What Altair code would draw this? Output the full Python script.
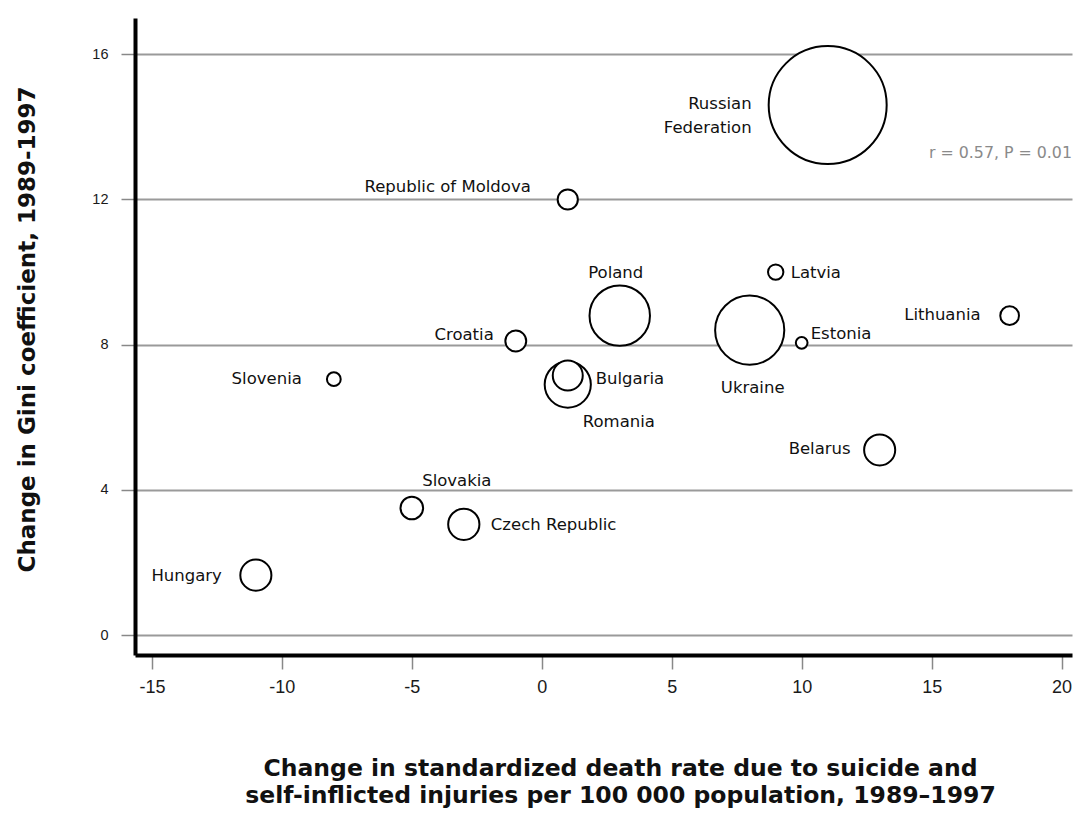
import altair as alt
import pandas as pd

# ---- data ----
countries = ["Russian Federation", "Ukraine", "Poland", "Romania", "Czech Republic",
             "Hungary", "Belarus", "Bulgaria", "Slovakia", "Croatia",
             "Republic of Moldova", "Lithuania", "Latvia", "Slovenia", "Estonia"]
labels = ["Russian\nFederation", "Ukraine", "Poland", "Romania", "Czech Republic",
          "Hungary", "Belarus", "Bulgaria", "Slovakia", "Croatia",
          "Republic of Moldova", "Lithuania", "Latvia", "Slovenia", "Estonia"]
death_rate_change = [11, 8, 3, 1, -3, -11, 13, 1, -5, -1, 1, 18, 9, -8, 10]
gini_change = [14.6, 8.4, 8.8, 6.9, 3.05, 1.65, 5.1, 7.15, 3.5, 8.1, 12.0, 8.8, 10.0, 7.05, 8.05]
population = [147, 50.5, 38.6, 22.5, 10.3, 10.2, 10.2, 9.5, 5.4, 4.6, 4.3, 3.7, 2.5, 2.0, 1.45]

x_ticks = [-15, -10, -5, 0, 5, 10, 15, 20]
y_ticks = [0, 4, 8, 12, 16]
annotation = ["r = 0.57, P = 0.01"]
x_title = ["Change in standardized death rate due to suicide and",
           "self-inflicted injuries per 100 000 population, 1989\u20131997"]
y_title = "Change in Gini coefficient, 1989-1997"

df = pd.DataFrame({"country": countries, "label": labels, "death": death_rate_change,
                   "gini": gini_change, "pop": population})

# label placement (align, dx, dy, baseline) -- layout only
placement = {
    "Russian Federation": ("right", -76, -9, "top"),
    "Ukraine": ("center", 3, 58, "middle"),
    "Poland": ("center", -4, -43, "middle"),
    "Romania": ("left", 15, 37, "middle"),
    "Czech Republic": ("left", 27, 1, "middle"),
    "Hungary": ("right", -34, 1, "middle"),
    "Belarus": ("right", -29, -1, "middle"),
    "Bulgaria": ("left", 28, 3, "middle"),
    "Slovakia": ("center", 45, -27, "middle"),
    "Croatia": ("right", -22, -6, "middle"),
    "Republic of Moldova": ("right", -37, -12, "middle"),
    "Lithuania": ("right", -29, -1, "middle"),
    "Latvia": ("left", 15, 1, "middle"),
    "Slovenia": ("right", -32, 0, "middle"),
    "Estonia": ("left", 9, -9, "middle"),
}

LABEL_FONT = "DejaVu Sans"
TICK_FONT = "Liberation Sans Narrow, Liberation Sans, Arial, sans-serif"
TITLE_FONT = "DejaVu Sans"

xscale = alt.Scale(domain=[-15.65, 20.4], nice=False, zero=False)
yscale = alt.Scale(domain=[-0.55, 17.0], nice=False, zero=False)

x_axis = alt.Axis(values=x_ticks, grid=False, tickColor="#888", tickWidth=1.5, tickSize=14,
                  labelPadding=9, labelFont=TICK_FONT, labelFontSize=18, labelColor="#1a1a1a",
                  labelExpr="'' + datum.value",
                  domainColor="black", domainWidth=4, title=x_title, titleFont=TITLE_FONT,
                  titleFontWeight="bold", titleFontSize=23.5, titleColor="#111",
                  titleLineHeight=27, titleX=485, titleY=101, titleAlign="center",
                  titleBaseline="top", labelFlush=False)
y_axis = alt.Axis(values=y_ticks, grid=True, gridColor="#9a9a9a", gridWidth=2,
                  tickColor="#888", tickWidth=1.5, tickSize=14, labelPadding=13,
                  labelFont=TICK_FONT, labelFontSize=14.5, labelColor="#1a1a1a",
                  domainColor="black", domainWidth=4, title=y_title, titleFont=TITLE_FONT,
                  titleFontWeight="bold", titleFontSize=23, titleColor="#111",
                  titleAngle=270, titleX=-108, titleY=311, titleAlign="center",
                  titleBaseline="middle")

points = alt.Chart().mark_circle(fill="white", stroke="black", strokeWidth=2,
                                 opacity=1, fillOpacity=1).encode(
    size=alt.Size("pop:Q", scale=alt.Scale(domain=[0, 147], range=[0, 13924]), legend=None),
)

layers = [points]
for c in countries:
    align, dx, dy, base = placement[c]
    layers.append(
        alt.Chart().transform_filter(alt.datum.country == c).mark_text(
            align=align, dx=dx, dy=dy, baseline=base, font=LABEL_FONT, fontSize=16.5,
            color="#111", lineBreak="\n", lineHeight=24).encode(text="label:N")
    )

ann = alt.Chart(pd.DataFrame({"t": annotation})).mark_text(
    align="left", baseline="middle", font=LABEL_FONT, fontSize=15.8, color="#8a8a8a").encode(
    x=alt.value(929 - 135), y=alt.value(153 - 18), text="t:N")
layers.append(ann)

chart = alt.layer(*layers, data=df).encode(
    x=alt.X("death:Q", scale=xscale, axis=x_axis),
    y=alt.Y("gini:Q", scale=yscale, axis=y_axis),
).properties(
    width=937, height=637,
    autosize=alt.AutoSizeParams(type="none"),
    padding={"left": 127, "top": 10, "right": 1, "bottom": 160},
    background="white",
).configure_view(stroke=None)

chart.save("out.html", embed_options={"renderer": "svg", "actions": False})
